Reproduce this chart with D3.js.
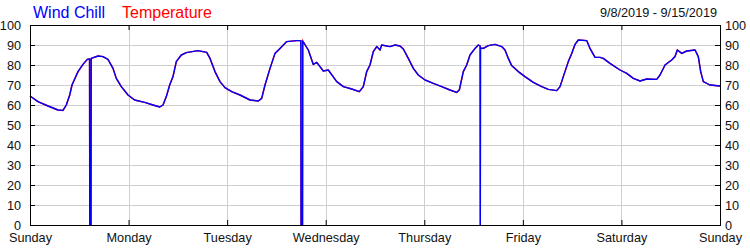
<!DOCTYPE html>
<html>
<head>
<meta charset="utf-8">
<script src="https://cdn.jsdelivr.net/npm/d3@7"></script>
<style>
  body { margin: 0; background: #fff; }
  svg { display: block; }
  .axis text { font-family: 'Liberation Sans', Arial, sans-serif; fill: #111; }
  .axis path { display: none; }
  .axis line { stroke: #000; }
</style>
</head>
<body>
<div id="chart"></div>
<script>
'use strict';

// hours since Sunday 9/8/2019 00:00
var hours = [
    0, 1.95, 4.38, 6.82, 8.03, 8.84, 9.67, 10.23, 10.88, 11.69, 12.9, 13.95,
    14.5, 14.55, 14.85, 14.9, 16.56, 17.77, 18.99, 20.21, 21.01, 22.23, 23.86,
    25.49, 27.93, 29.95, 31.58, 32.38, 33.19, 34.01, 34.82, 35.62, 36.84, 38.06,
    40.9, 43.02, 43.83, 45.04, 46.26, 47.48, 49.11, 51.13, 53.57, 55.59, 56.41,
    57.22, 58.44, 59.65, 60.87, 62.5, 64.94, 65.95, 66.0, 66.35, 66.4, 67.76,
    68.98, 69.81, 71.41, 72.63, 74.68, 76.28, 78.33, 80.18, 81.15, 81.98, 82.78,
    83.59, 84.42, 85.22, 85.63, 87.65, 88.87, 90.09, 90.89, 92.11, 93.33, 94.54,
    96.18, 98.2, 100.24, 102.26, 103.89, 104.53, 105.5, 106.33, 107.13, 108.35,
    109.15, 109.6, 109.64, 109.68, 110.37, 111.59, 113.22, 114.85, 115.65, 116.46,
    117.28, 118.89, 120.52, 122.54, 124.59, 126.2, 128.24, 129.05, 129.85, 131.07,
    131.9, 132.7, 133.5, 135.55, 136.35, 137.57, 138.79, 139.59, 141.22, 143.66,
    145.29, 146.9, 148.53, 150.16, 152.59, 153.4, 154.62, 156.24, 157.05, 157.61,
    158.68, 159.9, 161.92, 162.72, 163.3, 163.94, 165.57, 168
];

var windChill = [
    64.5, 61.7, 59.5, 57.5, 57.3, 60, 65, 70, 73, 76.7, 80.3, 82.8,
    83, 0, 0, 83.3, 84.5, 84.2, 82.8, 78.3, 73.3, 69.2, 65,
    62.5, 61.3, 60, 59, 60, 64.2, 70, 74.2, 81.7, 85, 86.2,
    87.2, 86.3, 83.3, 76.7, 71.7, 68.7, 66.7, 65, 62.5, 62, 63.3,
    70, 78.3, 85.8, 88.3, 91.7, 92.2, 92.2, 0, 0, 92, 87.5,
    80.3, 81.3, 77, 77.5, 71.7, 69.2, 68, 66.7, 69.2, 76.7, 80,
    86.7, 89.2, 87.5, 90, 89.2, 90, 89.5, 88, 83.3, 78.3, 75,
    72.5, 70.8, 69.2, 67.5, 66.3, 67.5, 76.7, 80, 85, 88.3,
    90, 89.5, 0, 88.5, 88.3, 89.7, 90.3, 89.2, 87.5, 83.3,
    79.7, 76.7, 74.2, 71.3, 69.2, 67.8, 67.2, 69.2, 74.2, 81.7,
    85.8, 90.3, 92.5, 92.2, 88.3, 83.8, 83.8, 83.3, 80.8, 77.5,
    75.8, 73.3, 72, 73, 72.8, 75, 80, 82.5, 84.2, 87.5,
    85.8, 87, 87.5, 84.2, 76.7, 71.7, 70, 69.5
];

// temperature matches wind chill for the whole week (red line sits under the blue one)
var temperature = windChill.slice();

var yTicks = [0, 10, 20, 30, 40, 50, 60, 70, 80, 90, 100];
var startDate = new Date(2019, 8, 8);
var endDate = new Date(2019, 8, 15);
var dateRange = '9/8/2019 - 9/15/2019';
var legend = [
    { label: 'Wind Chill', color: '#0000ff' },
    { label: 'Temperature', color: '#ff0000' }
];

var w = 750, h = 250;
var margin = { top: 25, right: 30, bottom: 25, left: 30 };

var svg = d3.select('#chart').append('svg')
    .attr('width', w)
    .attr('height', h);

var x = d3.scaleTime()
    .domain([startDate, endDate])
    .range([margin.left, w - margin.right]);

var y = d3.scaleLinear()
    .domain([0, 100])
    .range([h - margin.bottom, margin.top]);

function toDate(hr) {
    return new Date(startDate.getTime() + hr * 3600 * 1000);
}

var days = d3.timeDay.range(startDate, d3.timeDay.offset(endDate, 1));

// grid
var grid = svg.append('g').attr('stroke', '#cfcfcf').attr('stroke-width', 1);
grid.selectAll('.hg')
    .data(yTicks)
    .enter()
    .append('line')
    .attr('x1', margin.left)
    .attr('x2', w - margin.right)
    .attr('y1', function (d) { return Math.round(y(d)) + 0.5; })
    .attr('y2', function (d) { return Math.round(y(d)) + 0.5; });
grid.selectAll('.vg')
    .data(days)
    .enter()
    .append('line')
    .attr('y1', margin.top)
    .attr('y2', h - margin.bottom)
    .attr('x1', function (d) { return Math.round(x(d)) + 0.5; })
    .attr('x2', function (d) { return Math.round(x(d)) + 0.5; });

// axes with inside ticks
var fontSize = '12.7px';

svg.append('g')
    .attr('class', 'axis')
    .attr('transform', 'translate(0,' + (h - margin.bottom) + ')')
    .call(d3.axisBottom(x).tickValues(days).tickSize(-5).tickPadding(8)
        .tickFormat(d3.timeFormat('%A')))
    .selectAll('text').style('font-size', fontSize);

svg.append('g')
    .attr('class', 'axis')
    .attr('transform', 'translate(0,' + margin.top + ')')
    .call(d3.axisTop(x).tickValues(days).tickSize(-5).tickFormat(''));

svg.append('g')
    .attr('class', 'axis')
    .attr('transform', 'translate(' + margin.left + ',0)')
    .call(d3.axisLeft(y).tickValues(yTicks).tickSize(-5).tickPadding(9))
    .selectAll('text').style('font-size', fontSize);

svg.append('g')
    .attr('class', 'axis')
    .attr('transform', 'translate(' + (w - margin.right) + ',0)')
    .call(d3.axisRight(y).tickValues(yTicks).tickSize(-5).tickPadding(5))
    .selectAll('text').style('font-size', fontSize);

// lines
var line = d3.line()
    .x(function (d) { return x(toDate(d[0])); })
    .y(function (d) { return y(d[1]); });

svg.append('path')
    .datum(d3.zip(hours, temperature))
    .attr('fill', 'none')
    .attr('stroke', legend[1].color)
    .attr('stroke-width', 1.4)
    .attr('d', line);

svg.append('path')
    .datum(d3.zip(hours, windChill))
    .attr('fill', 'none')
    .attr('stroke', legend[0].color)
    .attr('stroke-width', 1.4)
    .attr('stroke-linejoin', 'round')
    .attr('d', line);

// frame
svg.append('rect')
    .attr('x', margin.left + 0.5)
    .attr('y', margin.top + 0.5)
    .attr('width', w - margin.left - margin.right)
    .attr('height', h - margin.top - margin.bottom)
    .attr('fill', 'none')
    .attr('stroke', '#000');

// legend + date range
var legendX = [33, 122];
svg.selectAll('.legend')
    .data(legend)
    .enter()
    .append('text')
    .attr('x', function (d, i) { return legendX[i]; })
    .attr('y', 18)
    .attr('fill', function (d) { return d.color; })
    .style('font-family', "'Liberation Sans', Arial, sans-serif")
    .style('font-size', '16px')
    .text(function (d) { return d.label; });

svg.append('text')
    .attr('x', 717)
    .attr('y', 17)
    .attr('text-anchor', 'end')
    .attr('fill', '#111')
    .style('font-family', "'Liberation Sans', Arial, sans-serif")
    .style('font-size', fontSize)
    .text(dateRange);
</script>
</body>
</html>
